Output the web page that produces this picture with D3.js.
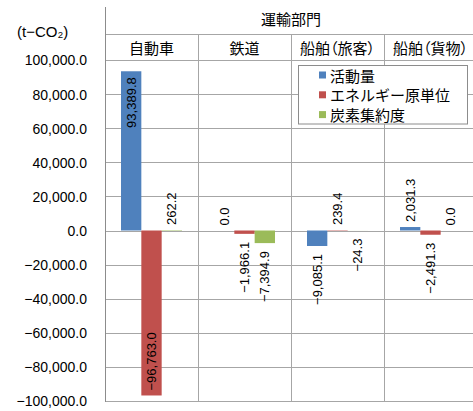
<!DOCTYPE html>
<html><head><meta charset="utf-8">
<script src="https://cdn.jsdelivr.net/npm/d3@7"></script>
<style>
html,body{margin:0;padding:0;background:#fff;}
svg{display:block;}
.cjk{font-family:"Noto Sans CJK JP","Noto Sans",sans-serif;}
.num{font-family:"Liberation Sans",Arial,sans-serif;}
</style></head>
<body>
<svg id="chart" width="473" height="411"></svg>
<script>
const groupTitle = "運輸部門";
const categories = ["自動車", "鉄道", "船舶（旅客）", "船舶（貨物）"];
const seriesNames = ["活動量", "エネルギー原単位", "炭素集約度"];
const activity = [93389.8, 0.0, -9085.1, 2031.3];
const energyIntensity = [-96763.0, -1966.1, 239.4, -2491.3];
const carbonIntensity = [262.2, -7394.9, -24.3, 0.0];
const colors = ["#4F81BD", "#C0504D", "#9BBB59"];
const yTickValues = [-100000, -80000, -60000, -40000, -20000, 0, 20000, 40000, 60000, 80000, 100000];
const yUnit = "(t−CO₂)";

const seriesValues = [activity, energyIntensity, carbonIntensity];
const svg = d3.select("#chart");
const left = 105, right = 477, plotTop = 60, plotBottom = 401, headTop = 7, catTop = 34;

const x0 = d3.scaleBand().domain(categories).range([left, right]).padding(0);
const x1 = d3.scaleBand().domain(seriesNames).range([16, x0.bandwidth() - 16]).padding(0);
const y = d3.scaleLinear().domain([-100000, 100000]).range([plotBottom, plotTop]);
const fmt = d3.format(",.1f");

const gridColor = "#a6a6a6";
svg.append("g").selectAll("line").data(yTickValues).join("line")
  .attr("x1", left).attr("x2", right)
  .attr("y1", d => Math.round(y(d)) + 0.5).attr("y2", d => Math.round(y(d)) + 0.5)
  .attr("stroke", gridColor).attr("stroke-width", 1);
svg.append("line").attr("x1", left).attr("x2", right).attr("y1", catTop + 0.5).attr("y2", catTop + 0.5)
  .attr("stroke", gridColor);
svg.append("g").selectAll("line").data(categories.slice(1)).join("line")
  .attr("x1", d => Math.round(x0(d)) + 0.5).attr("x2", d => Math.round(x0(d)) + 0.5)
  .attr("y1", catTop).attr("y2", plotBottom + 1)
  .attr("stroke", gridColor);
svg.append("line").attr("x1", left + 0.5).attr("x2", left + 0.5).attr("y1", headTop).attr("y2", plotBottom + 1)
  .attr("stroke", "#8c8c8c");

const yAxis = d3.axisLeft(y).tickValues(yTickValues).tickFormat(fmt).tickSize(0).tickPadding(0);
const ga = svg.append("g").attr("transform", `translate(${87},0)`).call(yAxis);
ga.select(".domain").remove();
ga.selectAll("text").attr("class", "num").attr("font-size", 14).attr("fill", "#000")
  .attr("font-family", "'Liberation Sans',Arial,sans-serif").attr("dy", "0.35em");

svg.append("text").attr("x", 17).attr("y", 37).attr("class", "num").attr("font-size", 15).text(yUnit);

svg.append("text").attr("class", "cjk").attr("x", (left + right) / 2).attr("y", 18)
  .attr("text-anchor", "middle").attr("dominant-baseline", "central").attr("font-size", 15).text(groupTitle);
svg.append("g").selectAll("text").data(categories).join("text")
  .attr("class", "cjk").attr("x", d => x0(d) + x0.bandwidth() / 2).attr("y", 47)
  .attr("text-anchor", "middle").attr("dominant-baseline", "central").attr("font-size", 15)
  .style("font-feature-settings", "'palt'")
  .text(d => d);

const data = [];
categories.forEach((c, i) => seriesNames.forEach((s, j) => data.push({c, s, j, v: seriesValues[j][i]})));
svg.append("g").selectAll("rect").data(data).join("rect")
  .attr("x", d => x0(d.c) + x1(d.s)).attr("width", x1.bandwidth())
  .attr("y", d => Math.min(y(d.v), y(0))).attr("height", d => Math.abs(y(d.v) - y(0)))
  .attr("fill", d => colors[d.j]);

const gl = svg.append("g");
data.forEach(d => {
  const cx = x0(d.c) + x1(d.s) + x1.bandwidth() / 2;
  const t = gl.append("text").attr("class", "num").attr("font-size", 13)
    .attr("font-family", "'Liberation Sans',Arial,sans-serif").text(fmt(d.v));
  const len = t.node().getComputedTextLength();
  const yv = y(d.v);
  let ay, anchor;
  if (d.v >= 0) {
    if (yv - 5 - len < plotTop) { ay = yv + 6; anchor = "end"; }
    else { ay = yv - 5; anchor = "start"; }
  } else {
    if (yv + 8 + len > plotBottom) { ay = yv - 5; anchor = "start"; }
    else { ay = yv + 8; anchor = "end"; }
  }
  t.attr("text-anchor", anchor).attr("dominant-baseline", "central")
    .attr("transform", `translate(${cx},${ay}) rotate(-90)`);
});

const lg = svg.append("g");
lg.append("rect").attr("x", 298.5).attr("y", 65.5).attr("width", 169).attr("height", 58.5)
  .attr("fill", "#fff").attr("stroke", "#8c8c8c");
seriesNames.forEach((s, j) => {
  const cy = 75 + j * 19.8;
  lg.append("rect").attr("x", 319).attr("y", cy - 3.5).attr("width", 7).attr("height", 7).attr("fill", colors[j]);
  lg.append("text").attr("class", "cjk").attr("x", 330).attr("y", cy).attr("dominant-baseline", "central")
    .attr("font-size", 15).text(s);
});
</script>
</body></html>
